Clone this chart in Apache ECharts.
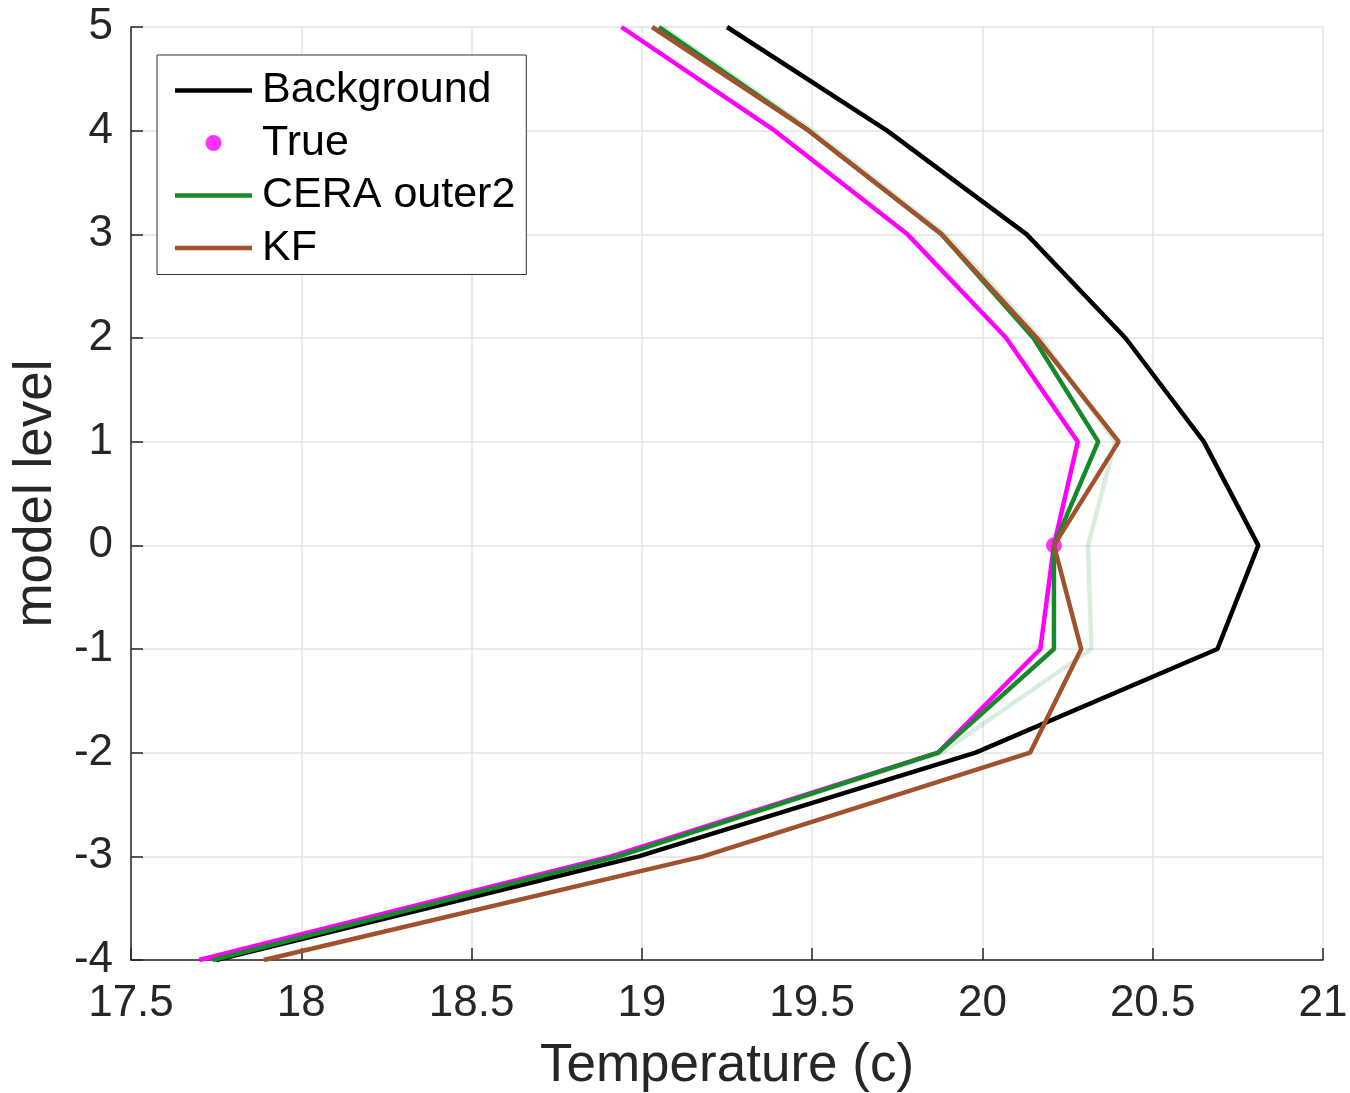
<!DOCTYPE html>
<html>
<head>
<meta charset="utf-8">
<script src="https://cdn.jsdelivr.net/npm/echarts@6/dist/echarts.min.js"></script>
<style>
  html, body { margin: 0; padding: 0; background: #fff; }
  #main { width: 1350px; height: 1093px; }
</style>
</head>
<body>
<div id="main"></div>
<script>
// model levels, top to bottom
var levels = [5, 4, 3, 2, 1, 0, -1, -2, -3, -4];
// temperatures (c)
var background = [19.25, 19.72, 20.13, 20.42, 20.65, 20.81, 20.69, 19.98, 18.99, 17.75];
var truth      = [18.94, 19.39, 19.78, 20.07, 20.28, 20.21, 20.17, 19.87, 18.91, 17.70];
var ceraOuter2 = [19.05, 19.49, 19.88, 20.15, 20.34, 20.21, 20.21, 19.87, 18.93, 17.74];
var ceraOuter1 = [19.06, 19.50, 19.89, 20.17, 20.39, 20.31, 20.32, 19.88, 18.94, 17.75];
var kf         = [19.03, 19.49, 19.88, 20.16, 20.40, 20.21, 20.29, 20.14, 19.18, 17.89];
// observed point
var obsLevel = 0;
var obsTemp = 20.21;

var xTicks = { min: 17.5, max: 21, step: 0.5 };
var yTicks = { min: -4, max: 5, step: 1 };

function pairs(xs) {
    var out = [];
    for (var i = 0; i < levels.length; i++) out.push([xs[i], levels[i]]);
    return out;
}

var font = 'Liberation Sans, Arial, Helvetica, sans-serif';
var lineIcon = 'path://M0 0H77V4.5H0Z';

function lineSeries(name, data, color, z) {
    return {
        name: name,
        type: 'line',
        data: pairs(data),
        symbol: 'none',
        z: z,
        lineStyle: { color: color, width: 4.5 },
        itemStyle: { color: color },
        animation: false
    };
}

var myChart = echarts.init(document.getElementById('main'));
var option = {
    backgroundColor: '#fff',
    grid: { left: 131, right: 27, top: 27, bottom: 133, outerBoundsMode: 'none' },
    legend: {
        left: 157,
        top: 55,
        orient: 'vertical',
        data: [
            { name: 'Background', icon: lineIcon },
            { name: 'True', icon: 'circle' },
            { name: 'CERA outer2', icon: lineIcon },
            { name: 'KF', icon: lineIcon }
        ],
        itemWidth: 77,
        itemHeight: 16,
        itemGap: 9.5,
        padding: [14, 11, 5, 18],
        borderColor: '#333',
        borderWidth: 1,
        backgroundColor: '#fff',
        textStyle: { fontFamily: font, fontSize: 43, color: '#000', lineHeight: 43, padding: [0, 0, 0, 5] },
        selectedMode: false
    },
    xAxis: {
        type: 'value',
        min: xTicks.min,
        max: xTicks.max,
        interval: xTicks.step,
        name: 'Temperature (c)',
        nameLocation: 'middle',
        nameGap: 80,
        nameTextStyle: { fontFamily: font, fontSize: 53, color: '#262626' },
        axisLine: { show: true, onZero: false, lineStyle: { color: '#262626', width: 1.5 } },
        axisTick: { show: true, inside: true, length: 12, lineStyle: { color: '#262626', width: 1.5 } },
        axisLabel: { fontFamily: font, fontSize: 44, color: '#262626', margin: 22 },
        splitLine: { show: true, lineStyle: { color: '#e3e3e3', width: 1.5 } }
    },
    yAxis: {
        type: 'value',
        min: yTicks.min,
        max: yTicks.max,
        interval: yTicks.step,
        name: 'model level',
        nameLocation: 'middle',
        nameRotate: 90,
        nameGap: 66,
        nameTextStyle: { fontFamily: font, fontSize: 53, color: '#262626' },
        axisLine: { show: true, onZero: false, lineStyle: { color: '#262626', width: 1.5 } },
        axisTick: { show: true, inside: true, length: 12, lineStyle: { color: '#262626', width: 1.5 } },
        axisLabel: { fontFamily: font, fontSize: 44, color: '#262626', margin: 18 },
        splitLine: { show: true, lineStyle: { color: '#e3e3e3', width: 1.5 } }
    },
    series: [
        {
            name: 'True',
            type: 'scatter',
            data: [[obsTemp, obsLevel]],
            symbol: 'circle',
            symbolSize: 16,
            z: 1,
            itemStyle: { color: '#ff00ff' },
            animation: false
        },
        lineSeries('CERA outer1', ceraOuter1, 'rgba(26,138,42,0.16)', 2),
        lineSeries('Background', background, '#000000', 3),
        lineSeries('True', truth, '#ff00ff', 4),
        lineSeries('CERA outer2', ceraOuter2, '#168a2a', 5),
        lineSeries('KF', kf, '#a0522d', 6)
    ]
};
myChart.setOption(option);
</script>
</body>
</html>
